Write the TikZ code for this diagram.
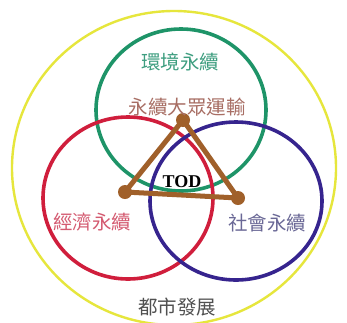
\documentclass[tikz,border=0pt]{standalone}
\usepackage{fontspec}
\newfontfamily\cjk{Noto Sans CJK TC}
\setmainfont{Liberation Serif}
\definecolor{cyel}{HTML}{E6E63C}
\definecolor{cgrn}{HTML}{1E9468}
\definecolor{cred}{HTML}{D01E3C}
\definecolor{cblu}{HTML}{36248E}
\definecolor{cbrn}{HTML}{A0602A}
\definecolor{tgrn}{HTML}{3E9E80}
\definecolor{tbrn}{HTML}{A86E64}
\definecolor{tred}{HTML}{D45A70}
\definecolor{tblu}{HTML}{6A6896}
\definecolor{tgry}{HTML}{505050}
\begin{document}
\begin{tikzpicture}[x=1pt,y=-1pt,
  ring/.style={line width=3.6pt},
  lbl/.style={font=\cjk\fontsize{19.5}{21}\selectfont, inner sep=0pt},
  vdot/.style={circle, fill=cbrn, minimum size=14pt, inner sep=0pt}]
\useasboundingbox (0,0) rectangle (347,322);
\fill[white] (0,0) rectangle (347,322);
\draw[cyel, line width=2.4pt] (174,168) ellipse [x radius=162, y radius=157];
\draw[ring, cgrn] (181,110) ellipse [x radius=85, y radius=81];
\draw[ring, cred] (128,198) ellipse [x radius=85, y radius=81];
\draw[ring, cblu] (236,201) ellipse [x radius=86, y radius=79];
\node[vdot] (top) at (183,120) {};
\node[vdot] (left) at (125,192) {};
\node[vdot] (right) at (238,198) {};
\draw[cbrn, line width=5pt, line join=round] (top.center) -- (left.center) -- (right.center) -- cycle;
\node[font=\bfseries\fontsize{18}{19}\selectfont, inner sep=0pt] (tod) at (182,182) {TOD};
\node[lbl, text=tgrn] (env) at (180,62) {環境永續};
\node[lbl, text=tbrn] (mrt) at (187,107) {永續大眾運輸};
\node[lbl, text=tred] (eco) at (92,222) {經濟永續};
\node[lbl, text=tblu] (soc) at (267,223) {社會永續};
\node[lbl, text=tgry] (city) at (177,307) {都市發展};
\end{tikzpicture}
\end{document}
